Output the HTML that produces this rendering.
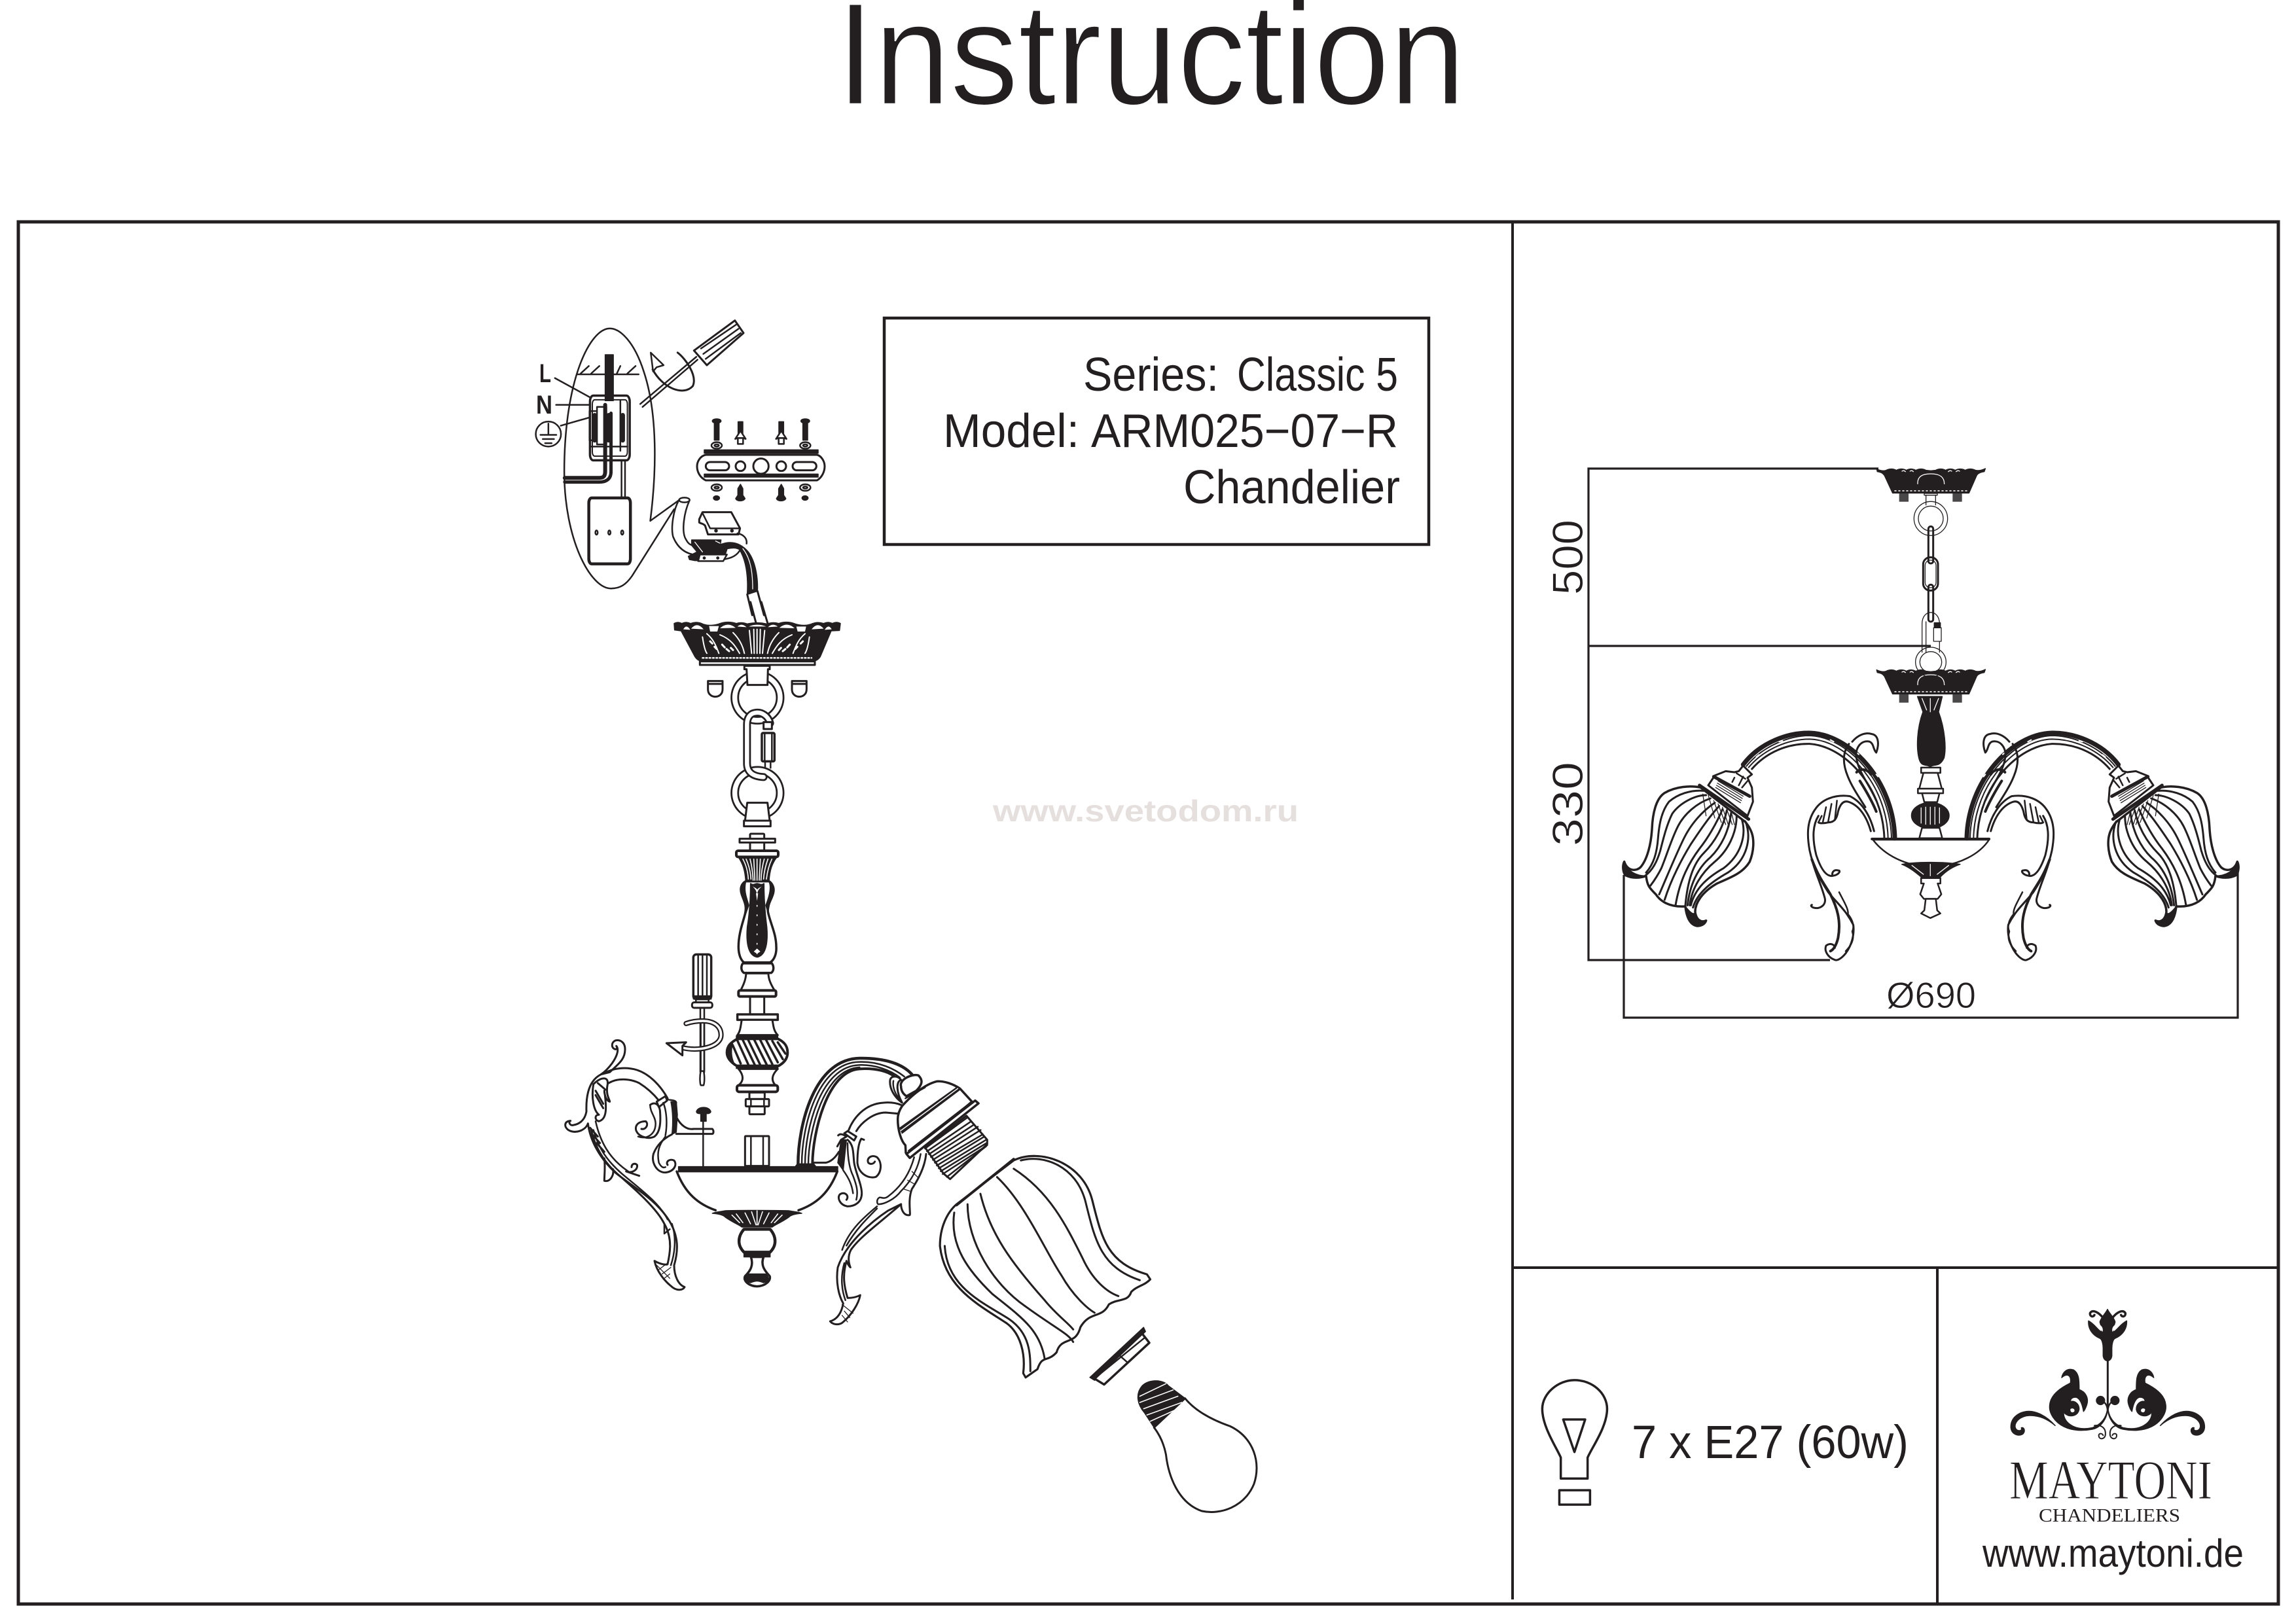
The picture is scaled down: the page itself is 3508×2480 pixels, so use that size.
<!DOCTYPE html>
<html><head><meta charset="utf-8"><style>
html,body{margin:0;padding:0;background:#fff}
svg{display:block}
text{font-family:"Liberation Sans",sans-serif;fill:#231f20}
.a *{vector-effect:non-scaling-stroke;stroke-linejoin:round;stroke-linecap:round}
.l{fill:none;stroke:#231f20;stroke-width:2.5}
.w{fill:#fff;stroke:#231f20;stroke-width:2.5}
.t{fill:none;stroke:#231f20;stroke-width:1.3}
.h{fill:none;stroke:#231f20;stroke-width:4.5}
.d{fill:#231f20;stroke:#231f20;stroke-width:1.5}
.wl{fill:none;stroke:#fff;stroke-width:1.3}
.th{stroke:#fff;stroke-width:.8}
</style></head><body>
<svg width="3508" height="2480" viewBox="0 0 3508 2480" xmlns="http://www.w3.org/2000/svg">
<rect width="3508" height="2480" fill="#fff"/>
<text class="th" x="1278" y="159" font-size="222" textLength="961" lengthAdjust="spacingAndGlyphs" style="stroke-width:2.4">Instruction</text>
<g fill="none" stroke="#231f20">
<rect x="28" y="339" width="3453" height="2112" stroke-width="5"/>
<line x1="2311" y1="339" x2="2311" y2="2444" stroke-width="4"/>
<line x1="2311" y1="1937" x2="3481" y2="1937" stroke-width="4"/>
<line x1="2960" y1="1937" x2="2960" y2="2451" stroke-width="4"/>
<rect x="1351" y="486" width="832" height="346" stroke-width="4.5"/>
</g>
<text x="1655" y="597" font-size="72" textLength="207" lengthAdjust="spacingAndGlyphs">Series:</text>
<text x="1890" y="597" font-size="72" textLength="246" lengthAdjust="spacingAndGlyphs">Classic 5</text>
<text x="1441" y="683" font-size="72" textLength="208" lengthAdjust="spacingAndGlyphs">Model:</text>
<text x="1667" y="683" font-size="72" textLength="469" lengthAdjust="spacingAndGlyphs">ARM025−07−R</text>
<text x="1808" y="769" font-size="72" textLength="331" lengthAdjust="spacingAndGlyphs">Chandelier</text>
<text x="1517" y="1255" font-size="46" font-weight="700" style="fill:#e5dfdd" textLength="467" lengthAdjust="spacingAndGlyphs">www.svetodom.ru</text>
<text x="824" y="584" font-size="40" font-weight="700" textLength="18" lengthAdjust="spacingAndGlyphs">L</text>
<text x="819" y="632" font-size="40" font-weight="700" textLength="25" lengthAdjust="spacingAndGlyphs">N</text>
<text x="2493" y="2228" font-size="71" textLength="423" lengthAdjust="spacingAndGlyphs">7 x E27 (60w)</text>
<text x="3029" y="2394" font-size="60" textLength="399" lengthAdjust="spacingAndGlyphs">www.maytoni.de</text>
<text class="th" x="3070" y="2290" font-size="85" textLength="310" lengthAdjust="spacingAndGlyphs" style='font-family:"Liberation Serif",serif;stroke-width:1'>MAYTONI</text>
<text x="3115" y="2325" font-size="29" textLength="216" lengthAdjust="spacingAndGlyphs" style='font-family:"Liberation Serif",serif'>CHANDELIERS</text>
<text class="th" transform="translate(2418,909) rotate(-90)" font-size="66" textLength="115" lengthAdjust="spacingAndGlyphs">500</text>
<text class="th" transform="translate(2418,1293) rotate(-90)" font-size="66" textLength="129" lengthAdjust="spacingAndGlyphs">330</text>
<text class="th" x="2882" y="1540" font-size="56" textLength="137" lengthAdjust="spacingAndGlyphs">Ø690</text>

<!-- GROUP 1: wiring callout -->
<g class="a" transform="translate(780,440) scale(.3571,.6378)">
<path class="l" d="M722 508L598 558C625 440 630 300 570 200C530 130 470 97 425 97C340 97 230 220 230 440C230 600 340 720 430 720C470 720 495 710 520 690L700 530"/>
<path class="l" d="M285 207H548M300 205L335 187M345 205L380 187M455 205L470 187M500 205L535 187"/>
<path class="d" d="M405 160H440V270H405Z"/>
<path class="h" d="M405 280V440C405 452 395 455 380 455H232" style="stroke-width:6"/>
<path class="h" d="M430 300V440C430 462 400 465 380 465H232" style="stroke-width:5"/>
<rect class="h" x="340" y="258" width="170" height="155" rx="14" style="stroke-width:3.5"/>
<rect class="h" x="350" y="268" width="150" height="135" rx="10" style="stroke-width:2"/>
<path class="h" d="M338 295H370V365H338ZM370 285H410V375H370ZM470 270V390M345 380H500" style="stroke-width:2.5"/>
<path class="h" d="M360 305V365M420 305V365M480 305V365" style="stroke-width:7"/>
<path class="l" d="M190 216L340 262M195 280H340M215 330L340 310M565 285L800 172M555 278L795 165"/>
<ellipse class="l" cx="162" cy="350" rx="54" ry="30"/>
<path class="l" d="M162 325V350M128 352H196M138 362H186M148 372H176"/>
<path class="l" d="M475 415V500M490 415V500"/>
<rect x="335" y="503" width="178" height="158" rx="12" class="h"/>
<circle cx="368" cy="586" r="5" class="l"/><circle cx="423" cy="586" r="5" class="l"/><circle cx="478" cy="586" r="5" class="l"/>
<path class="w" d="M785 150L960 78L997 108L840 185Z" style="stroke-width:3"/>
<path class="l" d="M815 145L965 88M825 158L975 98M835 170L985 108"/>
<path class="h" d="M608 195C650 240 740 260 780 235C800 210 750 170 715 155" style="stroke-width:3"/>
<path class="w" d="M600 155L655 185L625 190L610 200Z"/>
</g>

<!-- MOUNT PLATE and connector -->
<g class="a" transform="translate(1020,580) scale(.33333)">
<path class="w" d="M175 345C150 350 135 375 135 398C135 425 150 450 175 462H685C705 450 720 425 720 398C720 375 705 350 685 345Z" style="stroke-width:3"/>
<rect class="d" x="168" y="322" width="522" height="16"/>
<rect class="d" x="168" y="433" width="522" height="14"/>
<path class="l" d="M175 345H685"/>
<rect class="h" x="175" y="378" width="107" height="38" rx="19" style="stroke-width:3"/>
<rect class="h" x="573" y="378" width="109" height="38" rx="19" style="stroke-width:3"/>
<circle class="h" cx="334" cy="397" r="22" style="stroke-width:3"/>
<circle class="h" cx="521" cy="397" r="22" style="stroke-width:3"/>
<circle class="h" cx="428" cy="397" r="35" style="stroke-width:3"/>
<g id="scr"><ellipse class="d" cx="225" cy="190" rx="20" ry="10"/><rect class="d" x="214" y="200" width="22" height="78"/>
<ellipse class="w" cx="225" cy="302" rx="24" ry="15"/><ellipse class="l" cx="225" cy="302" rx="10" ry="5"/>
<ellipse class="w" cx="225" cy="495" rx="24" ry="15"/><ellipse class="l" cx="225" cy="495" rx="10" ry="5"/>
<ellipse class="d" cx="224" cy="543" rx="14" ry="10"/></g>
<use href="#scr" transform="translate(406,0)"/>
<g id="anc"><rect class="d" x="323" y="193" width="22" height="55"/><path class="w" d="M334 235L310 272L322 268H346L358 272Z"/><rect class="w" x="322" y="268" width="24" height="27"/>
<path class="d" d="M334 480L345 500V530L355 545C350 560 315 560 312 545L322 530V500Z"/></g>
<use href="#anc" transform="translate(187,0)"/>
<path class="l" d="M52 552C25 600 15 680 25 720C45 770 80 800 135 805M100 555C75 610 65 690 80 725C90 745 100 760 120 760"/>
<ellipse class="w" cx="77" cy="552" rx="24" ry="11"/>
<path class="w" d="M145 640L160 608H292L332 682L325 710H185L172 670C165 660 150 660 145 655Z" style="stroke-width:3"/>
<path class="l" d="M160 612L195 682H330"/>
<circle class="d" cx="222" cy="693" r="6"/><circle class="d" cx="295" cy="693" r="6"/>
<path class="l" d="M320 705C350 710 365 730 362 752M330 785C310 815 280 820 255 825"/>
<path class="d" d="M245 755C300 735 340 755 370 790C400 830 415 900 412 970L365 985C370 900 360 830 330 780C310 765 280 775 245 780Z"/>
<path class="wl" d="M345 775C380 820 390 880 390 960"/>
<path class="d" d="M110 735H245L240 770H275L255 830H125L100 825L95 810L135 790L110 760Z"/>
<path class="wl" d="M125 745L160 790M220 740L240 750"/>
<path class="w" d="M148 802H272L255 832H140Z"/>
<circle class="d" cx="168" cy="818" r="5"/><circle class="d" cx="230" cy="818" r="5"/>
<path class="l" d="M365 985L388 1080M412 970L442 1080" style="stroke-width:3"/>
</g>

<!-- CANOPY, rings, hook -->
<g class="a" transform="translate(1020,930) scale(.33333)">
<path class="l" d="M380 -30L405 65M430 -30L458 65" style="stroke-width:3"/>
<path class="d" d="M30 68Q47 58 65 68Q85 58 105 68Q135 56 165 72Q195 82 235 70Q275 55 315 68Q340 60 365 70Q410 60 455 70Q480 60 510 68Q545 55 585 70Q625 82 655 72Q685 58 715 68Q735 58 755 68Q775 58 792 68L788 100L750 102L700 220C690 235 680 240 665 240H155C145 240 135 235 125 220L62 102L32 98Z"/>
<path fill="#fff" d="M72 95Q86 68 104 97ZM108 92Q135 58 165 95ZM190 80H235L228 105H195ZM240 90Q275 58 312 88ZM320 82Q340 64 362 85ZM372 82Q410 66 452 82ZM460 85Q480 64 505 82ZM512 88Q548 58 582 90ZM590 82H635L630 105H596ZM660 95Q688 58 715 92ZM720 97Q738 68 752 95Z"/>
<path class="wl" d="M160 130C165 165 170 190 180 205M180 115C210 140 222 170 235 205M240 120C290 140 310 170 330 205M300 110C330 140 345 170 352 205M375 100L385 205M395 95L397 205M410 95V205M425 95L423 205M445 100L435 205M650 130C645 165 640 190 630 205M630 115C600 140 588 170 575 205M570 120C520 140 500 170 480 205M510 110C480 140 465 170 458 205" style="stroke-width:2"/>
<path class="wl" d="M195 150L205 160M215 175L225 185M250 165L262 178M270 185L282 195M290 180L300 190M620 150L610 160M595 175L585 185M560 165L548 178M540 185L528 195M520 180L510 190" style="stroke-width:3"/>
<path d="M160 226H660" fill="none" stroke="#fff" stroke-width="2.4" stroke-dasharray="2 3.2" stroke-linecap="butt" vector-effect="non-scaling-stroke"/>
<rect class="w" x="148" y="242" width="527" height="16" style="stroke-width:3"/>
<g id="lug0"><path class="l" d="M185 332H252V370C252 415 185 415 185 370ZM185 345H252" style="stroke-width:3"/></g>
<use href="#lug0" transform="translate(385,0)"/>
<circle cx="412" cy="408" r="104" fill="none" stroke="#231f20" stroke-width="13"/>
<circle cx="412" cy="408" r="104" fill="none" stroke="#fff" stroke-width="7.5"/>
<path class="w" d="M352 262H468V278H460L458 350H366L362 278H352Z" style="stroke-width:3"/>
<circle cx="412" cy="845" r="104" fill="none" stroke="#231f20" stroke-width="13"/>
<circle cx="412" cy="845" r="104" fill="none" stroke="#fff" stroke-width="7.5"/>
<path d="M470 525C460 490 430 472 400 478C375 482 364 505 364 530V710C364 745 385 770 440 772" fill="none" stroke="#231f20" stroke-width="12"/>
<path d="M470 525C460 490 430 472 400 478C375 482 364 505 364 530V710C364 745 385 770 440 772" fill="none" stroke="#fff" stroke-width="6.5"/>
<rect class="w" x="440" y="520" width="38" height="32" style="stroke-width:3"/>
<rect class="w" x="432" y="570" width="58" height="130" rx="6" style="stroke-width:3.5"/>
<path class="l" d="M445 575V695M478 575V695M447 700V730M472 700V730"/>
</g>

<!-- STEM upper -->
<g class="a" transform="translate(1020,1250) scale(.33333)">
<path class="w" d="M365 -70H458L468 12H355Z" style="stroke-width:3"/>
<rect class="w" x="350" y="12" width="122" height="26" style="stroke-width:3"/>
<rect class="w" x="378" y="72" width="65" height="78" rx="4" style="stroke-width:3"/>
<rect class="w" x="330" y="95" width="163" height="17" style="stroke-width:3"/>
<path class="w" d="M358 290C340 300 330 320 340 350C350 380 365 400 355 440C345 480 325 530 325 590C325 625 335 650 350 662H470C490 650 500 620 498 590C498 530 470 480 460 430C455 395 480 370 485 340C490 315 475 295 465 290Z" style="stroke-width:3.5"/>
<path class="d" d="M358 292C340 300 330 320 340 350C352 385 368 400 358 440L372 400C365 370 348 340 358 292ZM465 292C478 320 462 370 450 400L462 440C460 395 480 370 485 340C490 315 475 300 465 292Z"/>
<path class="d" d="M325 180H500C478 210 468 240 465 290H358C355 240 345 210 325 180Z"/>
<path class="wl" d="M345 188C360 215 368 245 370 280M360 188C372 215 380 245 382 280M378 188C385 215 390 245 392 285M395 188L400 285M410 188V285M425 188L420 285M443 188C435 215 430 245 428 285M460 188C450 215 442 245 440 280M478 188C465 215 457 245 453 280" style="stroke-width:1.6"/>
<rect class="w" x="315" y="150" width="192" height="28" rx="8" style="stroke-width:4"/>
<path class="d" d="M380 300C395 310 400 300 410 300C420 300 428 310 442 300C442 340 445 420 455 500C460 560 455 630 410 638C365 630 360 560 365 500C378 420 380 340 380 300Z"/>
<path d="M390 312C398 325 405 325 410 350C415 325 422 325 432 312C425 320 418 318 411 328C404 318 397 320 390 312ZM405 345L410 380L415 345ZM395 612L410 598L425 612L410 622Z" fill="#fff"/>
<path d="M410 400V640" fill="none" stroke="#fff" stroke-width="1.5" stroke-dasharray="1.5 13" vector-effect="non-scaling-stroke"/>
<path class="w" d="M345 666C335 680 336 700 350 710H475C488 700 488 680 478 666Z" style="stroke-width:3.5"/>
<path class="w" d="M360 712C358 745 345 770 335 790H490C475 765 462 740 462 712Z" style="stroke-width:3"/>
<rect class="w" x="325" y="790" width="172" height="28" rx="7" style="stroke-width:4"/>
<path class="l" d="M378 818V900M443 818V900" style="stroke-width:3"/>
<rect class="w" x="118" y="625" width="82" height="205" rx="14" style="stroke-width:3.5"/>
<path class="l" d="M140 630V825M160 630V825M180 630V825"/>
<path class="d" d="M118 815H200V830H118Z"/>
<rect class="w" x="112" y="845" width="93" height="25" rx="10" style="stroke-width:3"/>
<path class="l" d="M130 830V845M188 830V845"/>
<path class="l" d="M150 870V1165M168 870V1165"/>
</g>

<!-- LEFT ARM, BOWL, STEM lower -->
<g class="a" transform="translate(860,1570) scale(.33333)">
<rect class="w" x="800" y="-60" width="185" height="25" style="stroke-width:3.5"/>
<path class="w" d="M820 -35C815 -10 815 15 800 35H985C965 15 965 -10 960 -35Z" style="stroke-width:3"/>
<path class="w" d="M800 52H985C1020 68 1030 90 1030 115C1030 145 1010 165 985 178H800C770 160 752 140 752 115C752 85 770 68 800 52Z" style="stroke-width:4"/>
<path class="d" d="M768 75C750 100 755 140 785 165C770 135 770 105 778 72Z"/>
<path class="h" d="M800 60L850 170M825 58L880 172M850 58L905 172M878 58L935 172M905 58L960 168M932 58L985 160M960 62L1008 145M985 68L1020 120M778 80L815 165" style="stroke-width:3.5"/>
<rect class="d" x="795" y="38" width="190" height="13"/>
<rect class="d" x="795" y="172" width="190" height="16"/>
<path class="w" d="M805 190C830 220 830 245 805 265H975C955 245 955 220 985 190Z" style="stroke-width:3"/>
<rect class="w" x="798" y="265" width="187" height="30" rx="10" style="stroke-width:4"/>
<rect class="w" x="855" y="298" width="70" height="30" style="stroke-width:3"/>
<rect class="w" x="838" y="328" width="107" height="34" rx="4" style="stroke-width:3"/>
<path class="l" d="M862 328V362M922 328V362"/>
<rect class="w" x="855" y="362" width="70" height="36" rx="3" style="stroke-width:3"/>
<path class="l" d="M632 -30V200M648 -30V200" style="stroke-width:2.5"/>
<path class="w" d="M632 200C625 230 630 265 632 265H645C650 250 650 220 645 200Z"/>
<path d="M545 92C620 112 725 90 725 35C725 0 700 -30 640 -30C610 -30 585 -25 565 -18" fill="none" stroke="#231f20" stroke-width="8"/>
<path d="M545 92C620 112 725 90 725 35C725 0 700 -30 640 -30C610 -30 585 -25 565 -18" fill="none" stroke="#fff" stroke-width="3.5"/>
<path class="w" d="M475 72L565 68L548 85L548 128Z" style="stroke-width:3"/>
<path class="w" d="M215 205C250 170 285 150 285 100C285 65 260 55 240 60C220 70 222 95 240 100C250 100 250 90 245 85C258 100 250 130 225 165C210 185 190 205 175 215Z" style="stroke-width:3"/>
<path class="l" d="M175 215C125 240 105 300 108 385C100 430 70 445 45 448C30 450 25 430 35 428C5 430 5 455 25 470C60 490 105 470 115 440C125 520 170 600 240 665C320 730 430 790 490 890C530 960 530 1020 510 1090C510 1140 530 1180 558 1190C550 1205 520 1210 495 1185C470 1165 430 1120 420 1070C445 1085 475 1090 480 1085C490 1040 505 970 465 900C430 830 340 750 260 680C200 630 150 560 130 470" style="stroke-width:3"/>
<path class="l" d="M140 470C160 540 190 600 270 670C340 730 440 800 480 880M150 430C170 520 210 600 300 660M500 900C520 960 515 1030 495 1090M465 900L465 945L490 925"/>
<path class="l" d="M190 600C195 640 190 680 190 703C215 710 235 680 230 650M290 660C320 670 345 650 340 630C330 620 315 625 315 640M350 680L290 660" style="stroke-width:3"/>
<path class="w" d="M140 260C170 230 210 220 205 260C195 310 215 330 215 340C195 335 190 300 190 290C200 360 205 420 165 430C145 425 145 400 165 400C140 380 130 320 140 260Z" style="stroke-width:3"/>
<path class="h" d="M150 290L185 350M150 310L185 370M160 255L195 285M125 460L160 500M135 490L170 530M155 530L190 570" style="stroke-width:3"/>
<path class="t" d="M430 1090L490 1150M440 1110L480 1080M455 1130L495 1100M465 1150L490 1130"/>
<path class="l" d="M190 210C230 185 290 180 340 195C400 215 450 270 480 325M210 255C250 230 310 235 350 255C390 280 420 310 440 335" style="stroke-width:3"/>
<path class="w" d="M430 340L470 315L478 335L440 365Z" style="stroke-width:3"/>
<path class="l" d="M400 355C420 340 440 350 445 380C450 440 445 480 420 500C390 515 345 500 335 470C330 445 350 430 380 430C395 445 380 470 360 465" style="stroke-width:3"/>
<path class="l" d="M400 355C400 390 425 410 425 440C425 490 385 515 345 500M480 330C495 335 515 330 520 345M460 345C475 380 480 440 470 495"/>
<path class="d" d="M495 340L520 340L525 400L520 480L500 490C505 440 505 390 495 340Z"/>
<path class="l" d="M520 410C540 450 570 470 600 465H685C692 472 692 485 685 488H520" style="stroke-width:3"/>
<path class="l" d="M500 490C460 510 430 540 415 580C405 620 430 665 470 665C510 660 525 630 510 610C490 600 470 615 480 630" style="stroke-width:3"/>
<path class="l" d="M470 500C440 540 430 570 440 620C450 640 460 645 470 640"/>
<path class="d" d="M612 385C620 360 670 360 678 385C678 395 660 395 657 395V430H632V395C625 395 612 395 612 385Z"/>
<path class="l" d="M643 430V640"/>
<rect class="w" x="835" y="498" width="110" height="137" rx="3" style="stroke-width:3"/>
<path class="l" d="M862 498V635M918 498V635"/>
<rect class="d" x="530" y="638" width="730" height="24"/>
<path class="h" d="M522 660C560 760 620 810 700 838M1258 660C1220 760 1160 810 1080 838" style="stroke-width:3.5"/>
<path class="d" d="M685 852C700 845 720 845 745 840C800 838 980 838 1035 840C1060 845 1080 845 1095 852C1060 855 1045 860 1035 870C1000 895 970 905 960 915H820C810 905 780 895 745 870C735 860 720 855 685 852Z"/>
<path class="wl" d="M775 860L810 895M795 855L825 895M835 850L860 900M865 845L885 905M890 840V905M915 845L895 905M945 850L920 900M985 855L955 895M1005 860L970 895" style="stroke-width:1.6"/>
<path class="w" d="M830 925C800 960 800 1000 830 1030H950C980 1000 980 960 950 925Z" style="stroke-width:4.5"/>
<rect class="d" x="830" y="1030" width="120" height="22"/>
<path class="w" d="M862 1052C875 1090 860 1115 835 1140C825 1160 850 1185 890 1187C930 1185 955 1160 948 1140C925 1115 905 1090 920 1052Z" style="stroke-width:3.5"/>
<path class="d" d="M850 1130H930C950 1150 945 1165 920 1170C895 1160 885 1160 860 1170C835 1165 830 1150 850 1130Z"/>
</g>

<!-- RIGHT ARM and SOCKET -->
<g class="a" transform="translate(1180,1620) scale(.33333)">
<path class="h" d="M118 478C118 300 190 -5 400 -9C500 -10 590 10 640 65" style="stroke-width:4.5"/>
<path class="l" d="M135 478C135 310 205 10 400 8C490 5 560 40 605 75M150 478C150 320 220 25 400 22C470 20 540 45 585 80M165 478C165 330 235 40 400 33"/>
<path class="h" d="M184 475C184 340 250 48 400 40C470 35 530 50 560 75" style="stroke-width:4"/>
<path class="d" d="M105 488L115 475H190L200 488Z"/>
<path class="l" d="M190 470H245C270 465 290 445 305 420" style="stroke-width:3"/>
<path class="d" d="M300 470L315 365H340L325 505Z"/>
<path class="l" d="M350 320C370 270 420 200 510 195C540 192 565 195 590 205M385 325C405 290 460 240 520 240L575 245" style="stroke-width:3"/>
<path class="w" d="M330 335L345 325L385 350L375 368Z" style="stroke-width:3"/>
<path class="l" d="M302 345C310 335 325 340 340 350L315 365L298 395" style="stroke-width:3"/>
<path class="l" d="M420 365L408 360C395 380 390 420 390 470C395 520 440 545 475 535C500 515 505 470 480 445C455 430 430 450 440 470C450 480 465 475 470 465" style="stroke-width:3"/>
<path class="l" d="M345 365C375 390 370 430 375 470C380 510 410 570 410 610C410 650 380 670 345 670C310 665 295 630 310 615C330 600 355 620 340 640" style="stroke-width:3"/>
<path class="l" d="M345 380C345 430 350 490 370 530C385 570 395 600 385 640M325 505C350 540 365 570 370 610"/>
<path class="l" d="M650 445C630 520 590 580 530 625C510 640 495 625 490 630C475 640 480 665 490 660C510 660 560 640 590 600C640 550 670 490 680 430" style="stroke-width:2.5"/>
<path class="l" d="M705 430C700 480 680 530 640 590C620 640 635 705 630 710C600 715 590 680 590 660L530 690C470 730 340 830 300 950C290 1020 305 1080 325 1115C315 1170 290 1190 265 1197C280 1215 310 1215 325 1200C360 1170 395 1120 403 1077C380 1090 355 1090 345 1090C330 1040 320 990 340 920C340 925 355 950 358 950C350 930 345 900 360 870C400 810 500 740 590 660" style="stroke-width:3"/>
<path class="l" d="M330 930C310 1000 320 1060 335 1100M480 680C430 730 380 780 340 850M480 670C420 720 350 780 320 870"/>
<path class="t" d="M640 510L670 540M620 550L655 570M600 590L630 600M320 1120L370 1160M330 1150L355 1180M320 1170L345 1200"/>
<path class="w" d="M540 90C545 70 575 70 590 90C565 100 570 150 595 195C560 170 535 130 540 90Z" style="stroke-width:3"/>
<path class="l" d="M555 95C550 125 565 155 580 175"/>
<path class="w" d="M590 120C580 90 640 60 670 70C690 90 690 110 660 140L615 165C600 155 590 140 590 120Z" style="stroke-width:3.5"/>
<path class="w" d="M700 400L890 255L985 365V385L815 545L785 520Z" style="stroke-width:3"/>
<path class="h" d="M700 405L895 262M709 418L912 280M718 431L925 295M727 444L942 305M736 457L955 320M745 470L965 340M754 483L972 350M763 496L980 365M772 509L985 378M781 522L985 390M800 535L980 395" style="stroke-width:2.5"/>
<path class="w" d="M595 210C640 160 700 110 755 97C790 95 830 110 860 130L915 190L625 440L612 425L610 390C590 370 575 320 575 270C575 245 585 225 595 210Z" style="stroke-width:3.5"/>
<path class="d" d="M585 310L845 125L860 135L595 335Z"/>
<path class="wl" d="M590 322L850 130" style="stroke-width:1.5"/>
<path class="w" d="M615 430L930 185L945 198L630 448Z" style="stroke-width:3.5"/>
<path class="l" d="M625 415L915 190M700 125L610 175"/>
</g>

<!-- GROUP 2: shade, gasket, bulb -->
<g class="a" transform="translate(840,1400) scale(.727,.6378)">
<path class="w" d="M975 585C1030 555 1120 590 1140 680C1160 770 1170 830 1255 858L1262 870C1250 885 1235 885 1222 900C1215 925 1195 915 1175 930C1160 965 1135 945 1115 985C1105 1030 1075 1005 1065 1045C1045 1070 1035 1050 1025 1085L1000 1105L995 1095C1000 1050 990 1000 960 975C900 930 830 890 820 790C820 745 835 710 855 690Z" style="stroke-width:3.2"/>
<path class="h" d="M855 692L975 582" style="stroke-width:4"/>
<g style="stroke-width:3">
<path class="l" style="stroke-width:3" d="M990 585C1040 570 1105 600 1125 680C1145 770 1155 840 1240 872"/>
<path class="l" style="stroke-width:3" d="M830 790C835 890 910 925 965 965C1010 1000 1010 1050 1010 1090"/>
<path class="l" style="stroke-width:3" d="M850 710C840 790 880 850 930 905C990 960 1030 990 1040 1060"/>
<path class="l" style="stroke-width:3" d="M878 690C878 780 930 880 1000 935C1060 985 1090 1000 1100 1020"/>
<path class="l" style="stroke-width:3" d="M905 665C925 760 970 830 1040 920C1065 955 1090 975 1100 990"/>
<path class="l" style="stroke-width:3" d="M940 625C1000 690 1040 800 1075 860C1100 910 1130 940 1145 950"/>
<path class="l" style="stroke-width:3" d="M975 605C1050 660 1085 740 1120 820C1140 870 1170 900 1195 910"/>
</g>
<path class="d" d="M1135 1105L1248 985L1252 995L1145 1112Z"/>
<path class="w" d="M1145 1108L1245 1000L1260 1022L1165 1122Z" style="stroke-width:3.5"/>
<path class="l" d="M1155 1098L1250 1010M1195 1050L1215 1070"/>
<path class="w" d="M1335 1155C1360 1190 1400 1210 1430 1222C1480 1250 1495 1310 1480 1360C1460 1415 1410 1435 1370 1425C1320 1405 1300 1340 1295 1290C1290 1260 1280 1240 1270 1225Z" style="stroke-width:3"/>
<path class="d" d="M1245 1125C1260 1108 1290 1110 1300 1125L1335 1155L1270 1225L1250 1190C1235 1170 1230 1145 1245 1125Z"/>
<path class="wl" d="M1240 1150L1295 1120M1240 1165L1310 1135M1248 1180L1320 1150M1255 1195L1328 1165M1262 1210L1330 1175" style="stroke-width:1.6"/>
</g>

<!-- TOP canopy + chain -->
<g class="a" transform="translate(2780,700) scale(.33333)">
<g id="tc">
<path class="d" d="M262 50Q285 62 305 56Q330 44 352 56Q375 44 398 56Q420 44 442 56Q465 44 488 56L510 58L532 56Q555 44 578 56Q600 44 622 56Q645 44 668 56Q690 44 715 56Q735 60 760 48L755 62C735 65 725 70 720 80L685 160H335L298 80C290 70 285 65 265 62Z"/>
<path class="wl" d="M450 118C448 85 470 72 510 72C550 72 572 85 572 118M378 60Q386 54 394 62M415 60Q423 54 430 62M590 62Q598 54 606 60M626 62Q634 54 642 60"/>
<path d="M345 150H675" fill="none" stroke="#fff" stroke-width="1.6" stroke-dasharray="2 4" vector-effect="non-scaling-stroke"/>
<rect x="365" y="162" width="43" height="38" fill="#4a4748"/><rect x="610" y="162" width="43" height="38" fill="#4a4748"/>
</g>
<use href="#tc" transform="translate(0,921)"/>
<path class="t" d="M480 162H540V170H480ZM488 170V215M532 170V215"/>
<ellipse class="t" cx="510" cy="277" rx="77" ry="78"/>
<ellipse class="t" cx="510" cy="277" rx="57" ry="57"/>
<rect class="h" x="499" y="313" width="22" height="170" rx="11" style="stroke-width:3"/>
<rect class="h" x="475" y="455" width="68" height="152" rx="32" style="stroke-width:3"/>
<rect class="t" x="484" y="468" width="50" height="126" rx="24"/>
<rect class="h" x="499" y="580" width="22" height="170" rx="11" style="stroke-width:3"/>
<path class="t" d="M470 890V760C470 690 550 690 550 760V890M488 890V750"/>
<rect class="d" x="526" y="755" width="28" height="22"/>
<rect class="w" x="523" y="778" width="35" height="62" style="stroke-width:1.3"/>
<ellipse class="t" cx="510" cy="935" rx="70" ry="68"/>
<ellipse class="t" cx="510" cy="935" rx="50" ry="48"/>
</g>

<!-- GROUP 3 centre of dimension drawing -->
<g class="a" transform="translate(2360,680) scale(.7015,.5867)">
<path class="d" d="M812 655H866L858 695C872 740 875 790 870 815C860 840 850 830 840 838C830 830 820 840 815 815C810 790 810 740 824 695Z"/>
<path class="wl" d="M822 660L832 690M840 660V695M858 660L848 690"/>
<rect class="w" x="820" y="840" width="42" height="14"/>
<path class="w" d="M825 854L816 895H865L856 854Z"/>
<rect class="w" x="813" y="895" width="55" height="12"/>
<path class="w" d="M822 907H860L855 930H827Z"/>
<ellipse class="d" cx="840" cy="965" rx="41" ry="34"/>
<path class="wl" d="M820 945V985M830 943V988M840 943V988M850 943V988M860 945V985"/>
<path class="w" d="M822 997H860L866 1024H816Z"/>
<path class="w" d="M715 1028C745 1075 790 1090 810 1095H870C900 1090 945 1070 968 1028Z"/>
<path class="h" d="M713 1026H968" style="stroke-width:4"/>
<path class="d" d="M778 1092C810 1085 870 1085 905 1092C885 1100 870 1115 862 1125H820C810 1115 795 1100 778 1092Z"/>
<path class="wl" d="M800 1095L825 1118M840 1092V1122M880 1095L855 1118"/>
<path class="w" d="M820 1128H862V1142H856L864 1170L856 1182H826L818 1170L826 1142H820Z"/>
<path class="w" d="M830 1182H852L855 1212L862 1220L840 1232L820 1220L827 1212Z"/>
</g>

<!-- LEFT half of dimension drawing, mirrored -->
<g class="a" transform="translate(2450,1100) scale(.33333)">
<g id="hf">
<path class="h" d="M640 205C720 100 850 58 945 60C1130 65 1330 280 1335 543" style="stroke-width:7"/>
<path class="l" d="M655 212C730 120 850 72 945 72C1120 78 1315 290 1320 543" style="stroke-width:2"/>
<path class="l" d="M665 218C735 135 845 88 945 88C1110 92 1300 295 1304 543" style="stroke-width:2"/>
<path class="l" d="M680 225C745 150 840 108 945 110C1100 120 1280 300 1287 543" style="stroke-width:3"/>
<path class="wl" d="M700 170L712 160M805 100L820 96M920 80H945M1040 92L1055 100M1160 150L1170 158M1250 250L1258 260" style="stroke-width:2"/>
<path class="l" d="M1140 100C1165 70 1200 55 1230 65C1260 70 1265 110 1250 150C1235 135 1240 110 1220 100C1180 90 1150 130 1160 180C1170 240 1220 300 1250 370" style="stroke-width:3"/>
<path class="l" d="M1125 110C1095 150 1095 200 1120 260C1140 310 1175 360 1200 400" style="stroke-width:3"/>
<path class="h" d="M1160 240C1175 220 1210 225 1225 250M1175 280C1200 320 1230 370 1250 420" style="stroke-width:4"/>
<path class="l" d="M1240 510C1220 430 1180 375 1130 350C1060 340 1000 365 970 410C935 460 930 520 945 600C960 670 985 720 1030 790C1070 840 1110 870 1145 940C1150 980 1140 1030 1110 1070C1090 1095 1070 1105 1060 1100C1030 1090 1010 1060 1020 1035C1040 1020 1060 1030 1060 1045" style="stroke-width:3"/>
<path class="l" d="M1225 510C1205 440 1170 390 1120 375C1100 370 1085 385 1075 420C1070 450 1060 470 1030 470C1010 475 990 475 985 470" style="stroke-width:3"/>
<path class="l" d="M985 440C960 480 955 540 975 620C995 680 1020 720 1050 715C1080 710 1090 690 1075 690C1055 685 1045 700 1050 715" style="stroke-width:3"/>
<path class="l" d="M1000 440L985 470M1020 400L1005 470M1045 385L1030 465M1070 370L1060 460"/>
<path class="l" d="M955 640C970 700 1000 760 1015 820C1020 850 990 870 960 860C950 855 950 850 955 848" style="stroke-width:3"/>
<path class="h" d="M955 640C985 720 1010 750 1040 800C1070 860 1090 920 1075 1000C1065 1040 1050 1055 1040 1060" style="stroke-width:4"/>
<path class="l" d="M1080 790C1100 830 1125 870 1120 890C1145 920 1150 950 1140 970C1150 1000 1140 1030 1110 1060"/>
<path class="w" d="M445 310C400 300 330 305 280 335C240 360 225 430 222 500C218 570 200 640 170 675C150 695 110 695 95 650C85 670 90 700 100 712C130 728 170 725 195 715C200 760 210 770 240 800C260 830 300 860 375 855C380 900 395 940 430 945C450 945 465 935 470 920C450 930 425 920 420 880C420 840 450 790 520 750C590 720 640 700 670 650C690 600 690 550 680 520C670 490 650 465 640 460Z" style="stroke-width:3.5"/>
<path class="l" style="stroke-width:3" d="M460 325C400 320 340 340 300 375C265 420 255 480 250 540C245 610 230 660 195 700M470 345C420 345 350 380 315 430C290 480 275 540 260 600C245 650 225 690 190 715M490 360C430 380 370 430 340 490C310 550 290 620 265 680C250 710 230 740 215 760M510 380C450 420 400 480 370 540C335 610 290 720 255 800M530 395C480 450 440 510 400 570C360 635 310 730 280 825M545 410C520 470 480 540 440 590C395 650 350 730 330 850M565 415C550 490 510 560 460 610C410 660 385 740 375 850M585 425C575 510 540 580 490 630C430 680 395 760 385 850M610 440C610 520 570 600 510 650C450 700 405 770 395 850M635 460C655 530 630 620 550 680C480 720 420 770 400 850M650 465C680 540 660 640 570 700C500 740 430 790 410 860"/>
<path class="d" d="M95 650C85 670 90 700 100 712C130 728 170 725 195 715C150 715 110 695 95 650ZM375 855C380 900 395 940 430 945C450 945 465 935 470 920C450 930 425 920 420 880C415 900 395 880 375 855Z"/>
<path class="t" d="M455 340L470 440M480 345L510 450M505 370L540 470M525 385L560 480M545 400L575 490M565 410L590 480M585 420L600 480"/>
<path class="w" d="M480 300L510 255L560 235L600 240L620 235L640 210L680 250L660 265L680 310L685 375L660 440Z" style="stroke-width:3"/>
<path class="h" d="M505 260L670 350" style="stroke-width:5"/>
<path class="t" d="M525 280L640 350M522 290L636 360M518 300L632 370M514 310L628 380"/>
<path class="h" d="M440 300L665 455" style="stroke-width:5"/>
<path class="l" d="M610 245L650 270M600 265L590 285M640 260L620 300M660 280L635 310"/>
</g>
<use href="#hf" transform="translate(3000,0) scale(-1,1)"/>
</g>
<!-- dimension lines -->
<g fill="none" stroke="#231f20" stroke-width="3.2">
<path d="M2870 716H2427V1467H2796"/>
<path d="M2427 987H2950"/>
<path d="M2481 1337V1555H3419V1331"/>
</g>
<g class="a" transform="translate(2340,1950) scale(.7449,.338)">
<path class="h" d="M60 820C50 770 22 680 22 600C22 530 55 470 88 470C125 470 155 530 155 600C155 680 125 770 115 820V915H60Z" style="stroke-width:3.5"/>
<path class="h" d="M65 648H110L88 795Z" style="stroke-width:3.5"/>
<rect class="h" x="57" y="968" width="63" height="65" style="stroke-width:3.5"/>
</g>
<!-- LOGO -->
<g class="a" transform="translate(3040,1990) scale(.33333)">
<path class="d" d="M540 32C548 50 570 70 575 90C570 105 565 135 570 135C590 120 600 100 628 85C630 120 610 150 575 165C565 170 560 190 560 210V245C558 262 548 268 540 268C532 268 522 262 520 245V210C520 190 515 170 505 165C470 150 450 120 453 85C480 100 490 120 510 135C515 135 510 105 505 90C510 70 532 50 540 32Z"/>
<path d="M490 95C500 110 505 125 517 135C522 120 515 105 490 95ZM590 95C580 110 575 125 563 135C558 120 565 105 590 95Z" fill="#fff"/>
<path class="h" d="M541 268V490" style="stroke-width:3"/>
<g id="lg">
<path class="h" d="M520 72C500 45 470 30 460 50C458 65 475 70 480 58" style="stroke-width:3.5"/>
<path class="d" d="M330 345C335 320 355 300 385 310C410 325 410 360 410 400C440 410 455 440 445 470C440 485 435 495 430 500C425 470 415 440 395 435C375 435 370 445 370 455C390 450 410 465 410 490C405 520 370 530 345 510C330 480 350 470 375 480C355 470 335 490 340 520C350 560 400 590 470 575C510 560 540 530 541 470C545 530 510 575 470 582C430 590 380 590 340 570C300 550 270 510 275 470C280 420 330 390 370 370C375 340 360 320 330 345Z"/>
<path d="M370 490C378 482 392 488 388 500C380 510 368 502 370 490Z" fill="#fff"/>
<path class="d" d="M300 565C260 520 210 495 170 500C130 505 95 530 97 575C100 605 130 615 150 605C165 595 160 570 145 575C150 590 135 590 125 585C105 570 120 530 170 520C220 515 265 535 300 565Z"/>
<circle class="d" cx="508" cy="450" r="19"/>
<path class="h" d="M522 456C535 465 540 480 541 500" style="stroke-width:2.5"/>
<path class="h" d="M480 565C510 560 535 575 530 610C525 630 500 630 500 610C500 600 515 598 520 610" style="stroke-width:2"/>
</g>
<use href="#lg" transform="translate(1082,0) scale(-1,1)"/>
</g>
</svg>
</body></html>
